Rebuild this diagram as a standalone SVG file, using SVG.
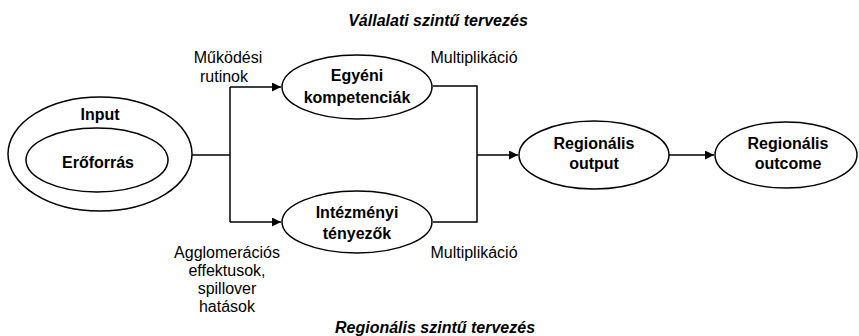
<svg xmlns="http://www.w3.org/2000/svg" width="859" height="336" viewBox="0 0 859 336">
<defs>
<style>
text{font-family:"Liberation Sans",Arial,sans-serif;fill:#000;text-anchor:middle}
.b{font-weight:bold;font-size:16px}
.r{font-size:16px}
.t{font-weight:bold;font-style:italic;font-size:16px}
ellipse{fill:#fff;stroke:#000;stroke-width:1.5}
.c path{fill:none;stroke:#000;stroke-width:1.5}
</style>
<marker id="ah" viewBox="0 0 10 10" refX="10" refY="5" markerWidth="9" markerHeight="9" markerUnits="userSpaceOnUse" orient="auto">
<path d="M0,0 L10,5 L0,10 z" fill="#000"/>
</marker>
</defs>
<rect width="859" height="336" fill="#fff"/>
<text class="t" x="438" y="26">Vállalati szintű tervezés</text>
<text class="t" x="435" y="333">Regionális szintű tervezés</text>
<g class="c" id="connectors">
<path d="M192,155 H230"/>
<path d="M230,87 V222"/>
<path d="M230,87 H281" marker-end="url(#ah)"/>
<path d="M230,222 H281" marker-end="url(#ah)"/>
<path d="M433,86 H477 V222 H433"/>
<path d="M477,155 H518" marker-end="url(#ah)"/>
<path d="M669,155 H714" marker-end="url(#ah)"/>
</g>
<g id="input">
<ellipse cx="100" cy="154" rx="92" ry="57"/>
<text class="b" x="100" y="120">Input</text>
</g>
<g id="eroforras">
<ellipse cx="97" cy="160" rx="71" ry="32"/>
<text class="b" x="98" y="168">Erőforrás</text>
</g>
<g id="egyeni">
<ellipse cx="357" cy="87" rx="75" ry="32"/>
<text class="b" x="357" y="81">Egyéni</text>
<text class="b" x="357" y="103">kompetenciák</text>
</g>
<g id="intezmenyi">
<ellipse cx="357" cy="222" rx="75" ry="31"/>
<text class="b" x="357" y="218">Intézményi</text>
<text class="b" x="357" y="239">tényezők</text>
</g>
<g id="output">
<ellipse cx="594" cy="155" rx="75" ry="34"/>
<text class="b" x="594" y="149">Regionális</text>
<text class="b" x="594" y="169">output</text>
</g>
<g id="outcome">
<ellipse cx="786" cy="155" rx="71" ry="33"/>
<text class="b" x="788" y="149">Regionális</text>
<text class="b" x="788" y="169">outcome</text>
</g>
<g id="labels">
<text class="r" x="228" y="63">Működési</text>
<text class="r" x="224" y="82">rutinok</text>
<text class="r" x="474" y="63">Multiplikáció</text>
<text class="r" x="474" y="258">Multiplikáció</text>
<text class="r" x="227" y="258">Agglomerációs</text>
<text class="r" x="227" y="276">effektusok,</text>
<text class="r" x="227" y="294">spillover</text>
<text class="r" x="227" y="312">hatások</text>
</g>
</svg>
